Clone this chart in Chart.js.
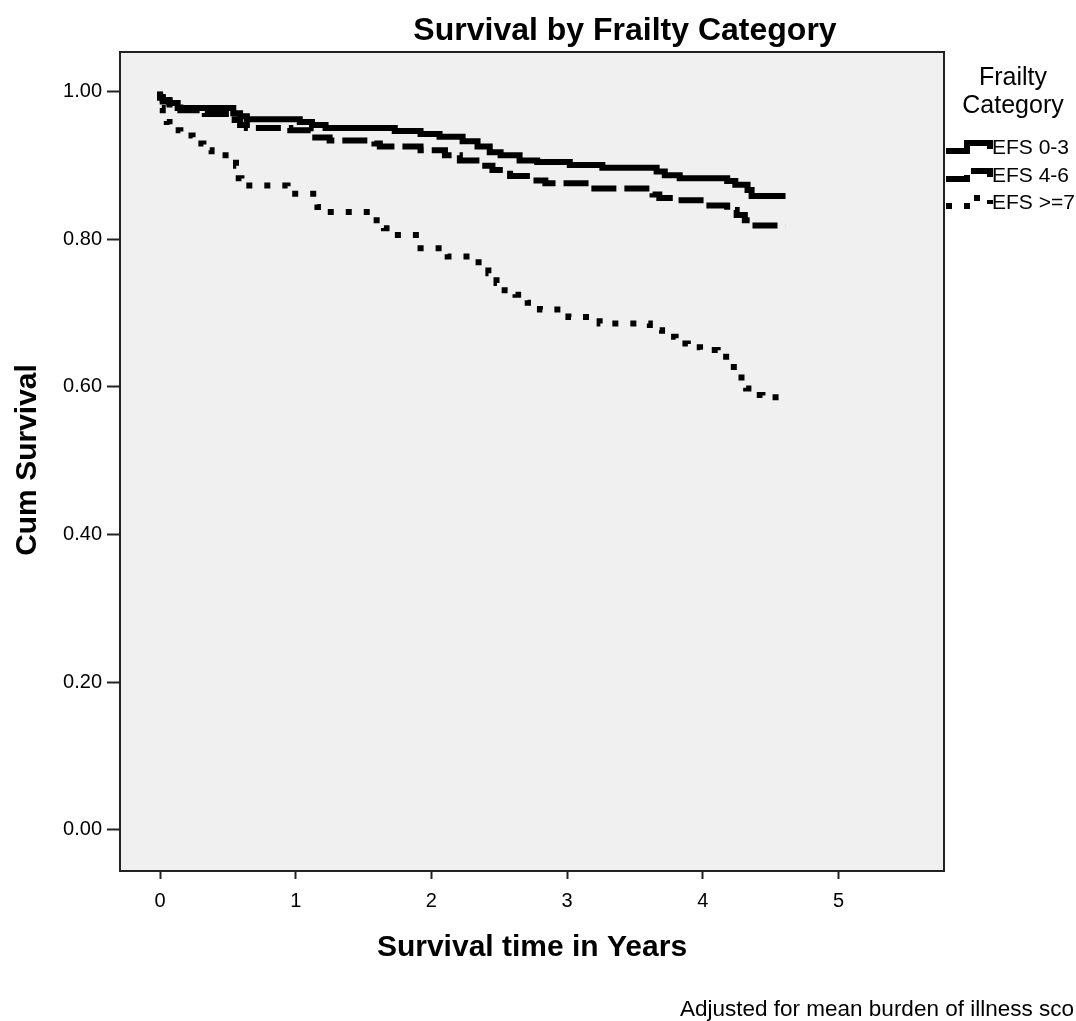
<!DOCTYPE html>
<html>
<head>
<meta charset="utf-8">
<script src="https://cdn.jsdelivr.net/npm/chart.js@4"></script>
<style>
  html, body { margin: 0; padding: 0; background: #fff; }
  canvas { display: block; }
</style>
</head>
<body>
<canvas id="survivalChart" width="1076" height="1021"></canvas>
<script>
const chartTitle = 'Survival by Frailty Category';
const xTitle = 'Survival time in Years';
const yTitle = 'Cum Survival';
const legendTitle = ['Frailty', 'Category'];
const footnote = 'Adjusted for mean burden of illness sco';

const seriesLabels = ['EFS 0-3', 'EFS 4-6', 'EFS >=7'];

const xTicks = [0, 1, 2, 3, 4, 5];
const xTickLabels = ['0', '1', '2', '3', '4', '5'];
const yTicks = [0, 0.2, 0.4, 0.6, 0.8, 1.0];
const yTickLabels = ['0.00', '0.20', '0.40', '0.60', '0.80', '1.00'];

// Kaplan-Meier steps, time in years / cumulative survival
const efs03Time = [0, 0.02, 0.07, 0.13, 0.54, 0.59, 0.64, 1.03, 1.12, 1.22, 1.73, 1.92, 2.06, 2.23, 2.34, 2.43, 2.51, 2.65, 2.78, 3.02, 3.26, 3.66, 3.72, 3.83, 4.18, 4.24, 4.33, 4.36, 4.40, 4.61];
const efs03Surv = [1.000, 0.993, 0.989, 0.985, 0.978, 0.971, 0.967, 0.963, 0.959, 0.955, 0.951, 0.947, 0.943, 0.939, 0.933, 0.926, 0.918, 0.914, 0.907, 0.905, 0.901, 0.897, 0.892, 0.887, 0.883, 0.879, 0.874, 0.867, 0.859, 0.859];

const efs46Time = [0, 0.02, 0.07, 0.15, 0.33, 0.55, 0.59, 0.64, 0.96, 1.11, 1.25, 1.58, 1.62, 1.92, 2.10, 2.21, 2.36, 2.45, 2.58, 2.75, 2.84, 3.17, 3.63, 3.68, 3.80, 4.02, 4.18, 4.25, 4.31, 4.35, 4.40, 4.61];
const efs46Surv = [1.000, 0.992, 0.987, 0.983, 0.975, 0.970, 0.962, 0.955, 0.951, 0.948, 0.938, 0.934, 0.930, 0.926, 0.921, 0.914, 0.907, 0.900, 0.894, 0.886, 0.880, 0.876, 0.869, 0.861, 0.856, 0.853, 0.846, 0.840, 0.833, 0.826, 0.819, 0.819];

const efs7Time = [0, 0.02, 0.05, 0.07, 0.15, 0.24, 0.32, 0.38, 0.56, 0.58, 0.60, 0.94, 1.16, 1.22, 1.56, 1.65, 1.73, 1.92, 2.12, 2.32, 2.42, 2.48, 2.54, 2.62, 2.71, 2.80, 3.01, 3.24, 3.61, 3.70, 3.80, 3.89, 3.98, 4.11, 4.20, 4.26, 4.32, 4.36, 4.44, 4.51, 4.61];
const efs7Surv = [1.000, 0.978, 0.968, 0.959, 0.948, 0.941, 0.930, 0.921, 0.914, 0.900, 0.883, 0.873, 0.862, 0.844, 0.837, 0.826, 0.815, 0.806, 0.788, 0.777, 0.769, 0.754, 0.741, 0.731, 0.725, 0.714, 0.705, 0.695, 0.686, 0.677, 0.668, 0.659, 0.654, 0.650, 0.641, 0.627, 0.613, 0.598, 0.589, 0.586, 0.586];

const toPoints = (t, s) => t.map((x, i) => ({ x, y: s[i] }));

const FONT = '"Liberation Sans", Arial, sans-serif';

// background box, frame, titles and the legend drawn around the plot
const decor = {
  id: 'decor',
  beforeDraw(chart) {
    const { ctx, chartArea: a } = chart;
    ctx.save();
    ctx.fillStyle = '#f0f0f0';
    ctx.fillRect(a.left, a.top, a.right - a.left, a.bottom - a.top);
    ctx.restore();
  },
  afterDraw(chart) {
    const { ctx, chartArea: a } = chart;
    ctx.save();
    ctx.strokeStyle = '#222';
    ctx.lineWidth = 2;
    ctx.strokeRect(a.left, a.top, a.right - a.left, a.bottom - a.top);

    ctx.fillStyle = '#000';
    ctx.textBaseline = 'middle';
    ctx.textAlign = 'center';
    ctx.font = 'bold 32px ' + FONT;
    ctx.fillText(chartTitle, 625, 31);

    ctx.font = 'bold 30px ' + FONT;
    ctx.fillText(xTitle, (a.left + a.right) / 2, 948);
    ctx.save();
    ctx.translate(28, 460);
    ctx.rotate(-Math.PI / 2);
    ctx.fillText(yTitle, 0, 0);
    ctx.restore();

    ctx.font = '25px ' + FONT;
    ctx.fillText(legendTitle[0], 1013, 78);
    ctx.fillText(legendTitle[1], 1013, 106);

    ctx.textAlign = 'left';
    ctx.font = '21px ' + FONT;
    const rowY = [148, 176, 203];
    chart.data.datasets.forEach((ds, i) => {
      const y = rowY[i];
      ctx.save();
      ctx.strokeStyle = ds.borderColor;
      ctx.lineWidth = ds.borderWidth;
      ctx.setLineDash(ds.borderDash || []);
      ctx.beginPath();
      ctx.moveTo(946, y + 3);
      ctx.lineTo(967, y + 3);
      ctx.lineTo(967, y - 5);
      ctx.lineTo(990, y - 5);
      ctx.lineTo(990, y + 1);
      ctx.stroke();
      ctx.restore();
      ctx.fillText(ds.label, 992, y);
    });

    ctx.font = '22.5px ' + FONT;
    ctx.fillText(footnote, 680, 1010);
    ctx.restore();
  }
};

const ctx = document.getElementById('survivalChart').getContext('2d');
new Chart(ctx, {
  type: 'line',
  data: {
    datasets: [
      {
        label: seriesLabels[0],
        data: toPoints(efs03Time, efs03Surv),
        borderColor: '#000',
        borderWidth: 6,
        borderDash: [],
      },
      {
        label: seriesLabels[1],
        data: toPoints(efs46Time, efs46Surv),
        borderColor: '#000',
        borderWidth: 6,
        borderDash: [25, 8],
      },
      {
        label: seriesLabels[2],
        data: toPoints(efs7Time, efs7Surv),
        borderColor: '#000',
        borderWidth: 6,
        borderDash: [6, 12],
      },
    ],
  },
  options: {
    responsive: false,
    animation: false,
    events: [],
    elements: {
      line: { stepped: 'after', tension: 0, borderCapStyle: 'butt', borderJoinStyle: 'miter' },
      point: { radius: 0 },
    },
    layout: { padding: { top: 52, right: 132, left: 0, bottom: 0 } },
    plugins: {
      legend: { display: false },
      title: { display: false },
      tooltip: { enabled: false },
    },
    scales: {
      x: {
        type: 'linear',
        min: -0.295,
        max: 5.778,
        border: { display: false },
        grid: { drawOnChartArea: false, drawTicks: true, tickLength: 8, tickColor: '#222', tickWidth: 2 },
        ticks: {
          color: '#000',
          font: { family: FONT, size: 20 },
          padding: 10,
          maxRotation: 0,
          callback: (v) => xTickLabels[xTicks.indexOf(v)] ?? '',
        },
        afterBuildTicks: (s) => { s.ticks = xTicks.map((v) => ({ value: v })); },
        afterFit: (s) => { s.height = 150; },
      },
      y: {
        type: 'linear',
        min: -0.056,
        max: 1.054,
        border: { display: false },
        grid: { drawOnChartArea: false, drawTicks: true, tickLength: 13, tickColor: '#222', tickWidth: 2 },
        ticks: {
          color: '#000',
          font: { family: FONT, size: 20 },
          padding: 5,
          callback: (v) => yTickLabels[yTicks.findIndex((t) => Math.abs(t - v) < 1e-6)] ?? '',
        },
        afterBuildTicks: (s) => { s.ticks = yTicks.map((v) => ({ value: v })); },
        afterFit: (s) => { s.width = 120; },
      },
    },
  },
  plugins: [decor],
});
</script>
</body>
</html>
